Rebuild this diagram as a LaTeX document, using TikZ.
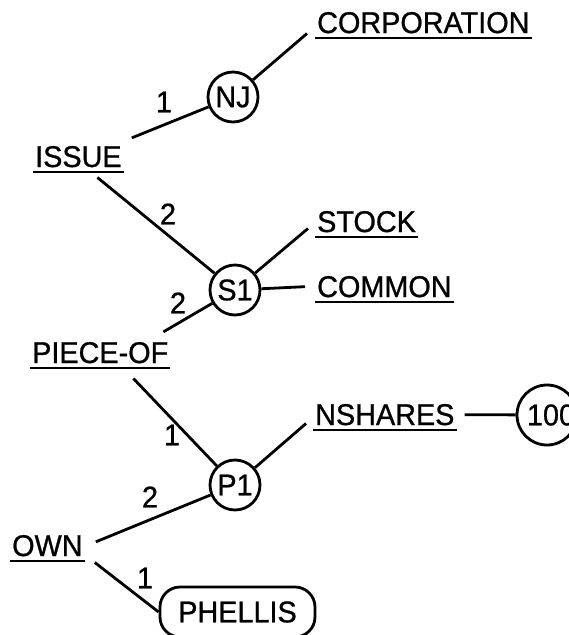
\documentclass[tikz,border=0pt]{standalone}
\usepackage{fontspec}
\setmainfont[FakeBold=0.8,FakeStretch=0.96]{Liberation Sans}
\begin{document}
\begin{tikzpicture}[x=1pt,y=1pt,
  lbl/.style={font=\fontsize{30}{30}\selectfont, inner sep=0pt},
  word/.style={lbl, anchor=base west},
  ent/.style={lbl, circle, draw, line width=2.8pt, minimum size=50pt},
  link/.style={line width=2.8pt},
  ul/.style={line width=2.8pt}]
  \useasboundingbox[fill=white] (0,0) rectangle (569,-635);

  % concept words (underlined)
  \node[word] (corp)    at (317,-33)  {CORPORATION};
  \node[word] (issue)   at (35,-167)  {ISSUE};
  \node[word] (stock)   at (317,-232) {STOCK};
  \node[word] (common)  at (317,-297) {COMMON};
  \node[word] (pieceof) at (32,-363)  {PIECE-OF};
  \node[word] (nshares) at (315,-425) {NSHARES};
  \node[word] (own)     at (12,-556)  {OWN};
  \foreach \n in {corp,issue,stock,common,pieceof,nshares,own}
    \draw[ul] ([shift={(-2,-5)}]\n.base west) -- ([shift={(2,-5)}]\n.base east);

  % instance nodes
  \node[ent] (nj) at (233,-97)  {NJ};
  \node[ent] (s1) at (235,-290) {S1};
  \node[ent] (p1) at (235,-485) {P1};
  \node[ent, minimum size=60pt] (hundred) at (547,-415) {\hspace*{8pt}100};
  \node[lbl, draw, line width=2.8pt, rounded corners=20pt,
        minimum width=155pt, minimum height=50pt] (phellis) at (237.5,-612) {PHELLIS};

  % connectors
  \draw[link] ([shift={(10,8)}]issue.north east) -- (nj);
  \draw[link] (nj) -- ([shift={(-10,0)}]corp.south west);
  \draw[link] ([shift={(19,-10)}]issue.south) -- (s1);
  \draw[link] (s1) -- ([shift={(-9,4)}]stock.south west);
  \draw[link] (s1) -- ([xshift=-12pt]common.west);
  \draw[link] ([shift={(-5,10)}]pieceof.north east) -- (s1);
  \draw[link] ([shift={(-35,-15)}]pieceof.south east) -- (p1);
  \draw[link] (p1) -- ([shift={(-9,2)}]nshares.south west);
  \draw[link] ([xshift=10pt]nshares.east) -- (hundred);
  \draw[link] ([shift={(13,-7)}]own.north east) -- (p1);
  \draw[link] ([shift={(12,-6)}]own.south east) -- (phellis.west);

  % argument numbers
  \node[lbl] (a1) at (164,-102) {1};
  \node[lbl] (a2) at (168,-214) {2};
  \node[lbl] (a3) at (178,-303) {2};
  \node[lbl] (a4) at (172,-435) {1};
  \node[lbl] (a5) at (150,-497) {2};
  \node[lbl] (a6) at (145,-578) {1};
\end{tikzpicture}
\end{document}
